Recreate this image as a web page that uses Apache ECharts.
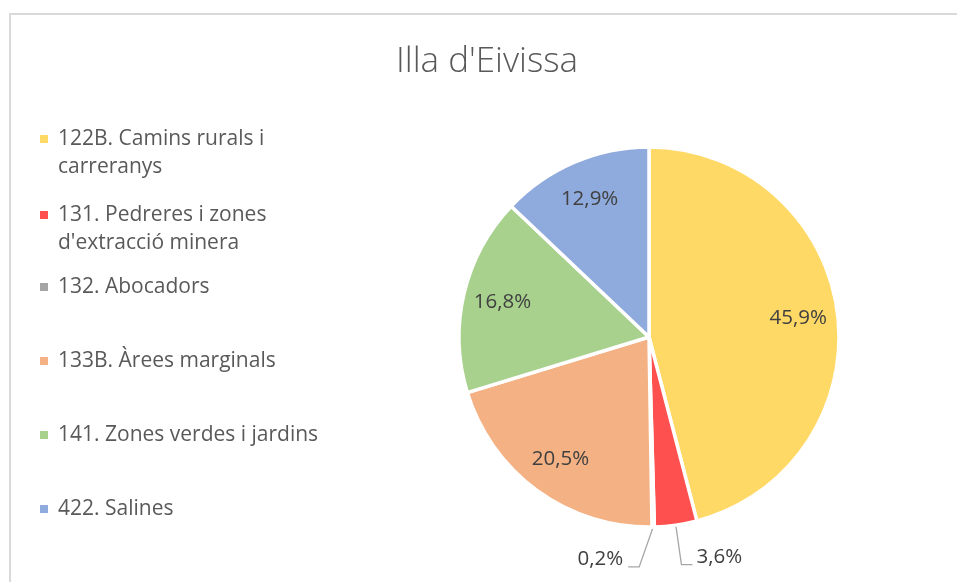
<!DOCTYPE html>
<html>
<head>
<meta charset="utf-8">
<script src="https://cdn.jsdelivr.net/npm/echarts@6/dist/echarts.min.js"></script>
<style>
  html, body { margin: 0; padding: 0; background: #fff; }
  #chart { width: 957px; height: 582px; }
</style>
</head>
<body>
<div id="chart"></div>
<script>
/* === Data === */
const CATEGORIES = [
  '122B. Camins rurals i\ncarreranys',
  '131. Pedreres i zones\nd\'extracció minera',
  '132. Abocadors',
  '133B. Àrees marginals',
  '141. Zones verdes i jardins',
  '422. Salines'
];
const VALUES = [45.9, 3.6, 0.2, 20.5, 16.8, 12.9];
const COLORS = ['#FFD966', '#FF5050', '#A5A5A5', '#F4B183', '#A9D18E', '#8FAADC'];
const OUTSIDE = [false, true, true, false, false, false];
// first-line centre of each legend entry
const LEGEND_Y = [139, 215, 287, 361, 435, 509];

const FONT = "'Open Sans', 'DejaVu Sans', sans-serif";
const pct = v => v.toFixed(1).replace('.', ',') + '%';

/* === Pie === */
const chart = echarts.init(document.getElementById('chart'));

// one legend per entry so the spacing can follow Excel's layout;
// wrapped names get an empty first line so the square sits on line one
const legends = CATEGORIES.map((name, i) => {
  const twoLines = name.indexOf('\n') >= 0;
  return {
    left: 40,
    top: twoLines ? LEGEND_Y[i] - 42 : LEGEND_Y[i] - 14,
    padding: 0,
    icon: 'rect',
    itemWidth: 8,
    itemHeight: 8,
    itemStyle: { borderWidth: 0 },
    selectedMode: false,
    data: [name],
    formatter: n => (twoLines ? '\n' + n : n),
    textStyle: {
      fontFamily: FONT, fontSize: 21, color: '#595959',
      lineHeight: 28,
      padding: [0, 0, 0, 5]
    }
  };
});

const pieData = CATEGORIES.map((name, i) => ({
  name: name,
  value: VALUES[i],
  itemStyle: { color: COLORS[i] },
  label: { show: OUTSIDE[i] },
  labelLine: { show: OUTSIDE[i] }
}));

const innerLabels = CATEGORIES.map((name, i) => ({
  name: name,
  value: VALUES[i],
  label: { show: !OUTSIDE[i] }
}));

chart.setOption({
  animation: false,
  title: {
    text: "Illa d'Eivissa",
    left: 482,
    top: 40,
    textAlign: 'center',
    textStyle: { fontFamily: FONT, fontSize: 35, fontWeight: 300, color: '#595959' }
  },
  legend: legends,
  graphic: [{
    type: 'rect',
    shape: { x: 10, y: 14, width: 1200, height: 1200 },
    style: { fill: 'none', stroke: '#d9d9d9', lineWidth: 2 },
    silent: true
  }],
  series: [
    {
      type: 'pie',
      center: [649, 337],
      radius: 190,
      startAngle: 90,
      avoidLabelOverlap: false,
      itemStyle: { borderColor: '#fff', borderWidth: 3.5 },
      label: {
        position: 'outside',
        fontFamily: FONT, fontSize: 20.5, color: '#404040',
        distanceToLabelLine: 4,
        formatter: p => pct(p.value)
      },
      labelLine: {
        length: 40, length2: 11, smooth: false,
        lineStyle: { color: '#A6A6A6', width: 1.3 }
      },
      labelLayout: params => {
        const pts = params.labelLinePoints;
        if (!pts) return {};
        if (params.dataIndex === 2) {
          // Excel puts this one on the left side
          const len2 = pts[2][0] - pts[1][0];
          const elbow = [pts[0][0] - (pts[1][1] - pts[0][1]) * 0.35, pts[1][1]];
          const end = [elbow[0] - len2, elbow[1]];
          return {
            x: end[0] - 5, y: end[1] - 8, align: 'right',
            labelLinePoints: [pts[0], elbow, end]
          };
        }
        return { y: pts[2][1] - 8, labelLinePoints: pts };
      },
      emphasis: { disabled: true },
      data: pieData
    },
    {
      type: 'pie',
      center: [649, 337],
      radius: [105, 190],
      startAngle: 90,
      silent: true,
      itemStyle: { color: 'rgba(0,0,0,0)' },
      label: {
        position: 'inside',
        fontFamily: FONT, fontSize: 20.5, color: '#404040',
        formatter: p => pct(p.value)
      },
      labelLine: { show: false },
      data: innerLabels
    }
  ]
});
</script>
</body>
</html>
